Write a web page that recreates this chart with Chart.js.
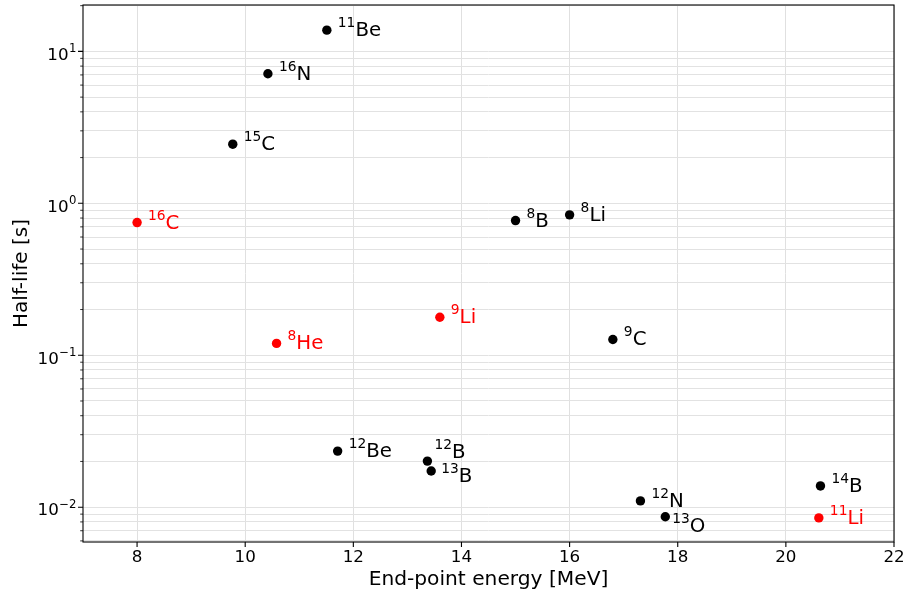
<!DOCTYPE html>
<html>
<head>
<meta charset="utf-8">
<script src="https://cdn.jsdelivr.net/npm/chart.js@4.4.1/dist/chart.umd.min.js"></script>
<style>
  html, body { margin: 0; padding: 0; background: #fff; }
</style>
</head>
<body>
<canvas id="chart" width="906" height="597"></canvas>
<script>
// isotopes (mass number + element), beta end-point energy and half-life
var isotopes = ['11Be', '16N', '15C', '16C', '8B', '8Li', '9Li', '8He', '9C', '12Be', '12B', '13B', '12N', '13O', '14B', '11Li'];
var endpointEnergy = [11.51, 10.42, 9.77, 8.00, 15.00, 16.00, 13.60, 10.58, 16.80, 11.71, 13.37, 13.44, 17.31, 17.77, 20.64, 20.61];
var halfLife = [13.8, 7.13, 2.45, 0.747, 0.77, 0.84, 0.178, 0.1197, 0.127, 0.0234, 0.0201, 0.0173, 0.0110, 0.00865, 0.0138, 0.0085];
// these ones are drawn in red
var highlighted = ['16C', '8He', '9Li', '11Li'];

var xTicks = [8, 10, 12, 14, 16, 18, 20, 22];
var yMajorTicks = [0.01, 0.1, 1, 10];
var yTickExponents = ['\u22122', '\u22121', '0', '1'];

// small label shifts where names would overlap
var labelNudge = { '12B': [-4, -9], '13B': [-1, 5], '13O': [-4, 9] };

var fontName = 'DejaVu Sans';
var yMin = 0.0059, yMax = 20.2;

// log minor ticks 2..9 in every decade
var yMinorTicks = [];
for (var d = -3; d <= 1; d++) {
    for (var k = 2; k <= 9; k++) {
        var v = k * Math.pow(10, d);
        if (v > yMin && v < yMax) yMinorTicks.push(v);
    }
}

function pointsFor(red) {
    return isotopes.map(function(name, i) {
        return {x: endpointEnergy[i], y: halfLife[i], name: name};
    }).filter(function(p) {
        return (highlighted.indexOf(p.name) >= 0) === red;
    });
}

var decorations = {
    id: 'decorations',
    afterDatasetsDraw: function(chart) {
        var ctx = chart.ctx;
        ctx.save();
        ctx.textAlign = 'left';
        ctx.textBaseline = 'alphabetic';
        chart.data.datasets.forEach(function(ds, di) {
            var meta = chart.getDatasetMeta(di);
            meta.data.forEach(function(el, i) {
                var name = ds.data[i].name;
                var m = name.match(/^(\d+)(\D+)$/);
                var nudge = labelNudge[name] || [0, 0];
                var lx = el.x + 11 + nudge[0];
                var ly = el.y + nudge[1];
                ctx.fillStyle = ds.backgroundColor;
                ctx.font = '13.8px "' + fontName + '"';
                ctx.fillText(m[1], lx, ly - 3);
                var w = ctx.measureText(m[1]).width;
                ctx.font = '19.8px "' + fontName + '"';
                ctx.fillText(m[2], lx + w, ly + 6);
            });
        });
        ctx.restore();
    },
    afterDraw: function(chart) {
        var ctx = chart.ctx;
        var a = chart.chartArea;
        var xs = chart.scales.x, ys = chart.scales.y;
        ctx.save();
        ctx.strokeStyle = '#000';
        // tick marks
        ctx.lineWidth = 1.1;
        ctx.beginPath();
        xTicks.forEach(function(v) {
            var px = xs.getPixelForValue(v);
            ctx.moveTo(px, a.bottom);
            ctx.lineTo(px, a.bottom + 5);
        });
        yMajorTicks.forEach(function(v) {
            var py = ys.getPixelForValue(v);
            ctx.moveTo(a.left, py);
            ctx.lineTo(a.left - 5, py);
        });
        ctx.stroke();
        ctx.lineWidth = 0.8;
        ctx.beginPath();
        yMinorTicks.forEach(function(v) {
            var py = ys.getPixelForValue(v);
            ctx.moveTo(a.left, py);
            ctx.lineTo(a.left - 2.8, py);
        });
        ctx.stroke();
        // frame
        ctx.lineWidth = 1.1;
        ctx.strokeRect(a.left, a.top, a.right - a.left, a.bottom - a.top);
        // y tick labels 10^n
        ctx.fillStyle = '#000';
        ctx.textAlign = 'left';
        ctx.textBaseline = 'alphabetic';
        var baseFont = '16.7px "' + fontName + '"';
        var supFont = '11.7px "' + fontName + '"';
        yMajorTicks.forEach(function(v, i) {
            var py = ys.getPixelForValue(v);
            ctx.font = baseFont;
            var wb = ctx.measureText('10').width;
            ctx.font = supFont;
            var wsup = ctx.measureText(yTickExponents[i]).width;
            var x0 = 76 - wb - wsup;
            ctx.font = baseFont;
            ctx.fillText('10', x0, py + 8.3);
            ctx.font = supFont;
            ctx.fillText(yTickExponents[i], x0 + wb + 0.5, py + 1);
        });
        ctx.restore();
    }
};

var ctx = document.getElementById('chart').getContext('2d');
var chart = new Chart(ctx, {
    type: 'scatter',
    data: {
        datasets: [
            {data: pointsFor(false), backgroundColor: '#000000', pointRadius: 4.7, borderWidth: 0},
            {data: pointsFor(true), backgroundColor: '#ff0000', pointRadius: 4.7, borderWidth: 0}
        ]
    },
    options: {
        responsive: false,
        animation: false,
        events: [],
        layout: {padding: {top: 5, right: 12, left: 0, bottom: 0}},
        plugins: {legend: {display: false}, tooltip: {enabled: false}},
        scales: {
            x: {
                type: 'linear',
                min: 7,
                max: 22,
                afterBuildTicks: function(s) {
                    s.ticks = xTicks.map(function(v) { return {value: v}; });
                },
                afterFit: function(s) {
                    s.height = 55;
                    s.paddingRight = 0;
                    s.paddingLeft = 0;
                },
                grid: {color: '#e0e0e0', lineWidth: 1, drawTicks: false},
                border: {display: false},
                ticks: {
                    color: '#000',
                    font: {family: fontName, size: 16.7},
                    padding: 6,
                    maxRotation: 0,
                    autoSkip: false,
                    callback: function(v) { return String(v); }
                },
                title: {
                    display: true,
                    text: 'End-point energy [MeV]',
                    color: '#000',
                    font: {family: fontName, size: 20.2},
                    padding: {top: 0, bottom: 5}
                }
            },
            y: {
                type: 'logarithmic',
                min: yMin,
                max: yMax,
                afterBuildTicks: function(s) {
                    var all = yMajorTicks.concat(yMinorTicks).sort(function(p, q) { return p - q; });
                    s.ticks = all.map(function(v) { return {value: v, major: yMajorTicks.indexOf(v) >= 0}; });
                },
                afterFit: function(s) {
                    s.width = 83;
                    s.paddingTop = 0;
                    s.paddingBottom = 0;
                },
                grid: {color: '#e2e2e2', lineWidth: 1, drawTicks: false},
                border: {display: false},
                ticks: {display: false},
                title: {
                    display: true,
                    text: 'Half-life [s]',
                    color: '#000',
                    font: {family: fontName, size: 20},
                    padding: {top: 10, bottom: 0}
                }
            }
        }
    },
    plugins: [decorations]
});
</script>
</body>
</html>
